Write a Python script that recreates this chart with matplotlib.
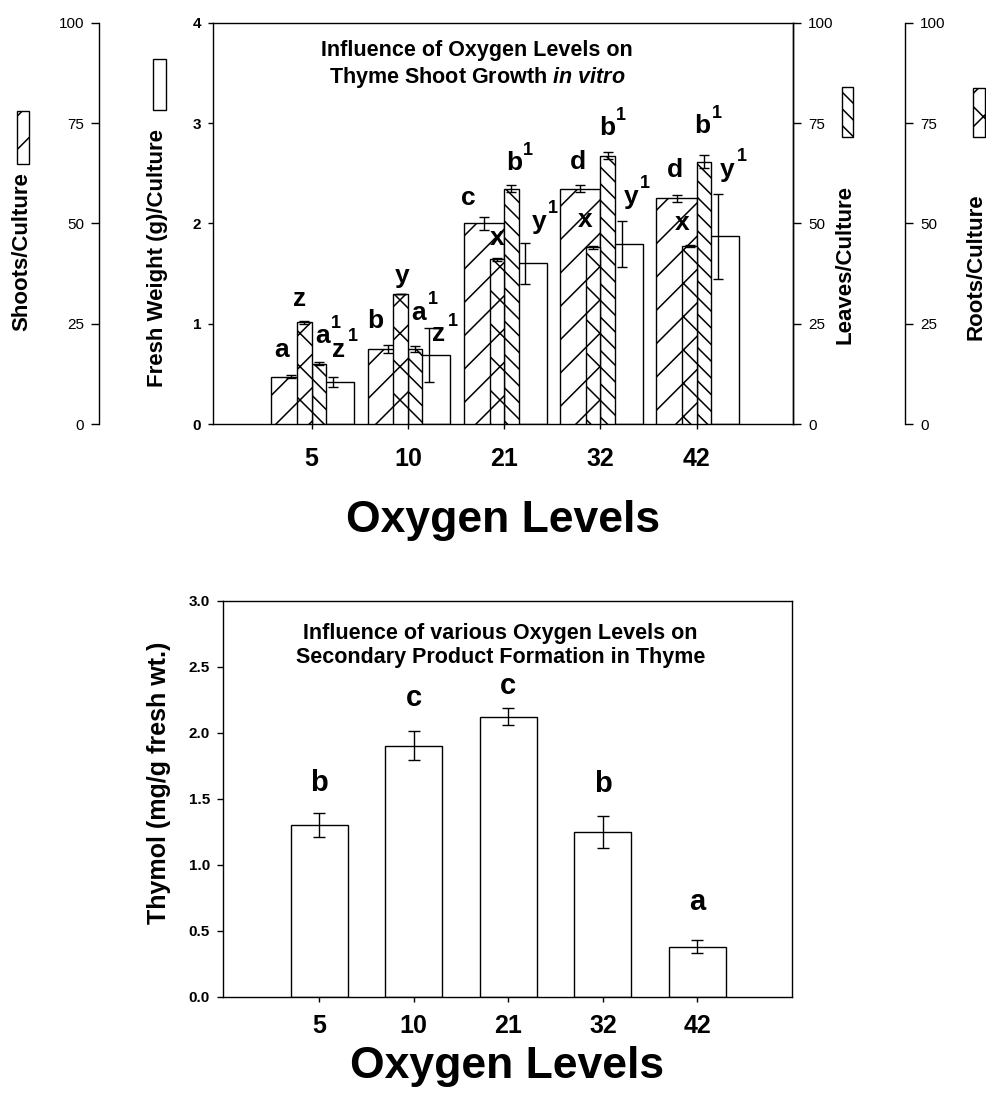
import matplotlib
matplotlib.use("Agg")
import matplotlib.pyplot as plt
from matplotlib.patches import Rectangle
import numpy as np

plt.rcParams['font.family'] = ['Liberation Sans', 'DejaVu Sans']
plt.rcParams['mathtext.fontset'] = 'custom'
plt.rcParams['mathtext.it'] = 'Liberation Sans:italic:bold'
plt.rcParams['mathtext.rm'] = 'Liberation Sans:bold'
plt.rcParams['hatch.linewidth'] = 1.1
plt.rcParams['axes.linewidth'] = 1.0

# ---------------- data ----------------
oxygen_levels = ['5', '10', '21', '32', '42']

shoots = [11.8, 18.7, 50.0, 58.6, 56.2]
shoots_err = [0.3, 0.9, 1.7, 0.9, 0.8]
roots = [25.3, 32.3, 41.0, 44.0, 44.4]
roots_err = [0.3, 0.0, 0.3, 0.3, 0.3]
leaves = [15.0, 18.7, 58.6, 66.9, 65.4]
leaves_err = [0.4, 0.8, 0.9, 0.9, 1.6]
fresh_weight = [0.42, 0.69, 1.60, 1.79, 1.87]
fresh_weight_err = [0.05, 0.27, 0.20, 0.23, 0.42]

shoot_letters = ['a', 'b', 'c', 'd', 'd']
root_letters = ['z', 'y', 'x', 'x', 'x']
leaf_letters = ['a', 'a', 'b', 'b', 'b']
fresh_letters = ['z', 'z', 'y', 'y', 'y']

thymol = [1.30, 1.90, 2.12, 1.25, 0.38]
thymol_err = [0.09, 0.11, 0.065, 0.12, 0.05]
thymol_letters = ['b', 'c', 'c', 'b', 'a']

# ---------------- layout (pixel offsets of letters) ----------------
shoot_dx = [-9.6, -12.5, -15.4, -1.9, -1.4]
shoot_dy = [25.9, 24.3, 18.2, 23.7, 25.3]
root_dx = [-4.5, 1.0, -0.3, -8.2, -7.7]
root_dy = [21.9, 18.5, 19.8, 25.8, 21.2]
leaf_dx = [3.3, 3.8, 2.6, -0.5, -1.5]
leaf_dy = [26.1, 33.0, 22.0, 23.8, 28.7]
fresh_dx = [6.1, 9.9, 13.6, 9.1, 9.6]
fresh_dy = [27.3, -6.7, 21.7, 24.7, 24.3]
thymol_dy = [30, 33, 22, 32, 38]

W, H = 987, 1097
DPI = 100
PT = 72.0 / DPI  # points per pixel
fig = plt.figure(figsize=(W / DPI, H / DPI), dpi=DPI)
fig.patch.set_facecolor('white')


def rect(l, t, r, b):
    return [l / W, 1 - b / H, (r - l) / W, (b - t) / H]


x = np.arange(1, len(oxygen_levels) + 1)
bar_kw = dict(facecolor='white', edgecolor='black', linewidth=1.0)
err_kw = dict(fmt='none', ecolor='black', elinewidth=1.0, capsize=3.6, capthick=1.0)
LEAF_HATCH = '\\\\'

# ---------------- top chart ----------------
L, R, T, B = 213, 793, 22.7, 424
ax = fig.add_axes(rect(L, T, R, B))
ax.set_xlim(-0.025, 6.0)
ax.set_ylim(0, 4)

# fresh weight (main axis)
ax.bar(x, fresh_weight, width=0.44, align='edge', **bar_kw)
ax.errorbar(x + 0.22, fresh_weight, yerr=fresh_weight_err, **err_kw)

# shoots axis (far left)
ax_sh = ax.twinx()
ax_sh.set_ylim(0, 100)
ax_sh.bar(x, shoots, width=-0.42, align='edge', hatch='/', **bar_kw)
ax_sh.errorbar(x - 0.21, shoots, yerr=shoots_err, **err_kw)

# leaves axis (right spine)
ax_lv = ax.twinx()
ax_lv.set_ylim(0, 100)
ax_lv.bar(x, leaves, width=0.15, align='edge', hatch=LEAF_HATCH, **bar_kw)
ax_lv.errorbar(x + 0.075, leaves, yerr=leaves_err, **err_kw)

# roots axis (far right)
ax_rt = ax.twinx()
ax_rt.set_ylim(0, 100)
ax_rt.bar(x, roots, width=-0.15, align='edge', hatch='x', **bar_kw)
ax_rt.errorbar(x - 0.075, roots, yerr=roots_err, **err_kw)

count_ticks = [0, 25, 50, 75, 100]
for a in (ax_sh, ax_lv, ax_rt):
    for s in a.spines.values():
        s.set_visible(False)
    a.set_yticks(count_ticks)
    a.tick_params(axis='y', length=5.8, width=1.0, labelsize=11, pad=5)

ax_sh.yaxis.tick_left()
ax_sh.spines['left'].set_visible(True)
ax_sh.spines['left'].set_position(('axes', (99 - L) / (R - L)))

ax_lv.yaxis.tick_right()
ax_lv.spines['right'].set_visible(True)

ax_rt.yaxis.tick_right()
ax_rt.spines['right'].set_visible(True)
ax_rt.spines['right'].set_position(('axes', (905 - L) / (R - L)))

ax.set_yticks([0, 1, 2, 3, 4], labels=['0', '1', '2', '3', '4'], fontweight='bold')
ax.tick_params(axis='y', length=3.6, width=1.0, labelsize=11, pad=5)
ax.set_xticks(x, labels=oxygen_levels, fontweight='bold')
ax.tick_params(axis='x', length=3.6, width=1.0, labelsize=18, pad=13)
ax.set_xlabel('Oxygen Levels', fontsize=32, fontweight='bold')
ax.xaxis.set_label_coords(0.5, -0.19)

# letters overlay
ax_lab = ax.twinx()
ax_lab.set_ylim(0, 4)
ax_lab.axis('off')

def put_letter(axis_data, xc, val, err, dx, dy, txt, sup=False, fs=19):
    ax_lab.annotate(txt, xy=(xc, val + err), xycoords=axis_data.transData,
                    xytext=(dx * PT, dy * PT), textcoords='offset points',
                    ha='center', va='center', fontsize=fs, fontweight='bold',
                    annotation_clip=False)
    if sup:
        ax_lab.annotate('1', xy=(xc, val + err), xycoords=axis_data.transData,
                        xytext=((dx + 9) * PT, (dy + 13) * PT), textcoords='offset points',
                        ha='left', va='center', fontsize=13, fontweight='bold',
                        annotation_clip=False)

for i in range(len(x)):
    put_letter(ax_sh, x[i] - 0.21, shoots[i], shoots_err[i], shoot_dx[i], shoot_dy[i], shoot_letters[i])
    put_letter(ax_rt, x[i] - 0.075, roots[i], roots_err[i], root_dx[i], root_dy[i], root_letters[i])
    put_letter(ax_lv, x[i] + 0.075, leaves[i], leaves_err[i], leaf_dx[i], leaf_dy[i], leaf_letters[i], sup=True)
    put_letter(ax, x[i] + 0.22, fresh_weight[i], fresh_weight_err[i], fresh_dx[i], fresh_dy[i], fresh_letters[i], sup=True)

ax.text(0.455, 0.895, 'Influence of Oxygen Levels on\nThyme Shoot Growth $\\mathit{in\\ vitro}$',
        transform=ax.transAxes, ha='center', va='center', fontsize=15.5,
        fontweight='bold', linespacing=1.2)

# y labels with swatches
def ylab(px, py, s, fs=16):
    fig.text(px / W, 1 - py / H, s, rotation=90, ha='center', va='center',
             fontsize=fs, fontweight='bold')

def swatch(l, t, r, b, hatch):
    fig.add_artist(Rectangle((l / W, 1 - b / H), (r - l) / W, (b - t) / H,
                             transform=fig.transFigure, facecolor='white',
                             edgecolor='black', linewidth=1.0, hatch=hatch))

ylab(22, 252, 'Shoots/Culture')
swatch(17, 111, 29, 164, '/')
ylab(158, 258, 'Fresh Weight (g)/Culture')
swatch(153, 59, 166, 110, None)
ylab(845, 265, 'Leaves/Culture')
swatch(842, 87, 853, 137, LEAF_HATCH)
ylab(976, 267, 'Roots/Culture')
swatch(973, 88, 985, 137, 'x')

# ---------------- bottom chart ----------------
L2, R2, T2, B2 = 222.7, 792, 600.7, 996.7
ax2 = fig.add_axes(rect(L2, T2, R2, B2))
ax2.set_xlim(-0.02, 6.0)
ax2.set_ylim(0, 3.0)
ax2.bar(x, thymol, width=0.6, **bar_kw)
ax2.errorbar(x, thymol, yerr=thymol_err, fmt='none', ecolor='black',
             elinewidth=1.0, capsize=4.2, capthick=1.0)
yt = [0.0, 0.5, 1.0, 1.5, 2.0, 2.5, 3.0]
ax2.set_yticks(yt, labels=[f'{v:.1f}' for v in yt], fontweight='bold')
ax2.tick_params(axis='y', length=4.3, width=1.0, labelsize=11, pad=5)
ax2.set_xticks(x, labels=oxygen_levels, fontweight='bold')
ax2.tick_params(axis='x', length=3.6, width=1.0, labelsize=18, pad=9)
ax2.set_xlabel('Oxygen Levels', fontsize=32, fontweight='bold')
ax2.xaxis.set_label_coords(0.5, -0.125)
for i in range(len(x)):
    ax2.annotate(thymol_letters[i], xy=(x[i], thymol[i] + thymol_err[i]),
                 xytext=(0, thymol_dy[i] * PT), textcoords='offset points',
                 ha='center', va='center', fontsize=21, fontweight='bold')
ax2.text(0.488, 0.886, 'Influence of various Oxygen Levels on\nSecondary Product Formation in Thyme',
         transform=ax2.transAxes, ha='center', va='center', fontsize=15.5,
         fontweight='bold', linespacing=1.2)
fig.text(159 / W, 1 - 783 / H, 'Thymol (mg/g fresh wt.)', rotation=90,
         ha='center', va='center', fontsize=18, fontweight='bold')

fig.savefig('out.png', dpi=DPI)
